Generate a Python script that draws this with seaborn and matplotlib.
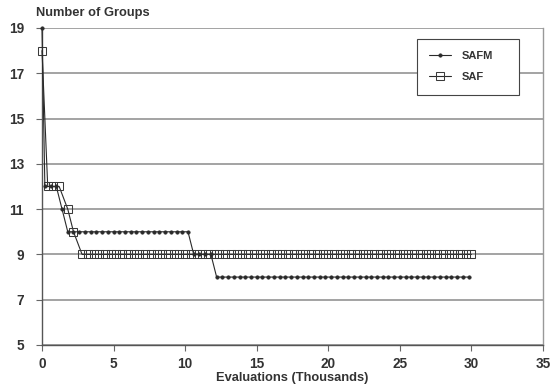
import matplotlib
matplotlib.use("Agg")
import matplotlib.pyplot as plt
import seaborn as sns

# ---- data ----
safm_x = [0.0, 0.2, 0.6, 1.0, 1.4,
          1.8, 2.2, 2.6, 3.0, 3.4, 3.8, 4.2, 4.6, 5.0, 5.4, 5.8, 6.2, 6.6, 7.0, 7.4, 7.8, 8.2, 8.6, 9.0, 9.4, 9.8, 10.2,
          10.6, 11.0, 11.4, 11.8,
          12.2, 12.6, 13.0, 13.4, 13.8, 14.2, 14.6, 15.0, 15.4, 15.8, 16.2, 16.6, 17.0, 17.4, 17.8, 18.2, 18.6,
          19.0, 19.4, 19.8, 20.2, 20.6, 21.0, 21.4, 21.8, 22.2, 22.6, 23.0, 23.4, 23.8, 24.2, 24.6, 25.0, 25.4,
          25.8, 26.2, 26.6, 27.0, 27.4, 27.8, 28.2, 28.6, 29.0, 29.4, 29.8]
safm_y = [19, 12, 12, 12, 11,
          10, 10, 10, 10, 10, 10, 10, 10, 10, 10, 10, 10, 10, 10, 10, 10, 10, 10, 10, 10, 10, 10,
          9, 9, 9, 9,
          8, 8, 8, 8, 8, 8, 8, 8, 8, 8, 8, 8, 8, 8, 8, 8, 8,
          8, 8, 8, 8, 8, 8, 8, 8, 8, 8, 8, 8, 8, 8, 8, 8, 8,
          8, 8, 8, 8, 8, 8, 8, 8, 8, 8, 8]

saf_x = [0.0, 0.4, 0.8, 1.2, 1.8, 2.2,
         2.8, 3.2, 3.6, 4.0, 4.4, 4.8, 5.2, 5.6, 6.0, 6.4, 6.8, 7.2, 7.6, 8.0, 8.4, 8.8, 9.2, 9.6, 10.0, 10.4,
         10.8, 11.2, 11.6, 12.0, 12.4, 12.8, 13.2, 13.6, 14.0, 14.4, 14.8, 15.2, 15.6, 16.0, 16.4, 16.8, 17.2,
         17.6, 18.0, 18.4, 18.8, 19.2, 19.6, 20.0, 20.4, 20.8, 21.2, 21.6, 22.0, 22.4, 22.8, 23.2, 23.6, 24.0,
         24.4, 24.8, 25.2, 25.6, 26.0, 26.4, 26.8, 27.2, 27.6, 28.0, 28.4, 28.8, 29.2, 29.6, 30.0]
saf_y = [18, 12, 12, 12, 11, 10,
         9, 9, 9, 9, 9, 9, 9, 9, 9, 9, 9, 9, 9, 9, 9, 9, 9, 9, 9, 9,
         9, 9, 9, 9, 9, 9, 9, 9, 9, 9, 9, 9, 9, 9, 9, 9, 9,
         9, 9, 9, 9, 9, 9, 9, 9, 9, 9, 9, 9, 9, 9, 9, 9, 9,
         9, 9, 9, 9, 9, 9, 9, 9, 9, 9, 9, 9, 9, 9, 9]

x_ticks = [0, 5, 10, 15, 20, 25, 30, 35]
y_ticks = [5, 7, 9, 11, 13, 15, 17, 19]
series_names = ["SAFM", "SAF"]

# ---- figure ----
sns.set_theme(style="white")
plt.rcParams["font.family"] = ["Liberation Sans", "DejaVu Sans"]

fig = plt.figure(figsize=(5.55, 3.9), dpi=100)
L, R, T, B = 42, 543, 28, 345
ax = fig.add_axes([L / 555, 1 - B / 390, (R - L) / 555, (B - T) / 390])

ink = "#2a2a2a"
sns.lineplot(x=saf_x, y=saf_y, ax=ax, estimator=None, sort=False,
             color=ink, linewidth=0.8, marker="s", markersize=5.2,
             markerfacecolor="none", markeredgecolor="#3a3a3a", markeredgewidth=0.75,
             label=series_names[1], clip_on=False, zorder=3)
sns.lineplot(x=safm_x, y=safm_y, ax=ax, estimator=None, sort=False,
             color=ink, linewidth=0.8, marker="o", markersize=2.6,
             markerfacecolor=ink, markeredgecolor=ink, markeredgewidth=0.3,
             label=series_names[0], clip_on=False, zorder=4)

ax.set_xlim(0, 35)
ax.set_ylim(5, 19)
ax.set_xticks(x_ticks)
ax.set_yticks(y_ticks)
ax.yaxis.grid(True, color="#8a8a8a", linewidth=1.1)
ax.xaxis.grid(False)
ax.set_axisbelow(True)

ax.spines["top"].set_visible(False)
ax.spines["left"].set_color("#555555")
ax.spines["bottom"].set_color("#555555")
ax.spines["right"].set_color("#999999")
for s in ["left", "bottom", "right"]:
    ax.spines[s].set_linewidth(1.0)

ax.tick_params(axis="both", direction="out", length=4, width=0.8, color="#666666",
               labelsize=9.8, labelcolor="#333333", left=True, bottom=True)
ax.tick_params(axis="y", pad=9)
ax.tick_params(axis="x", pad=5)
for lab in ax.get_xticklabels() + ax.get_yticklabels():
    lab.set_fontweight("bold")

ax.set_xlabel("Evaluations (Thousands)", fontsize=9.3, fontweight="bold",
              color="#333333", labelpad=0)
ax.set_ylabel("")
fig.text(36 / 555, 1 - 13 / 390, "Number of Groups", fontsize=9.3,
         fontweight="bold", color="#333333", va="center", ha="left")

handles, labels = ax.get_legend_handles_labels()
order = [labels.index(n) for n in series_names]
leg = ax.legend([handles[i] for i in order], [labels[i] for i in order],
                loc="upper left", bbox_to_anchor=(375 / 501, 0.0, 102 / 501, (B - 39) / (B - T)),
                mode="expand", borderaxespad=0, frameon=True, fancybox=False,
                framealpha=1, edgecolor="#444444", fontsize=8,
                handlelength=2.0, handletextpad=0.9, borderpad=1.1, labelspacing=1.0)
leg.get_frame().set_linewidth(0.8)
for t in leg.get_texts():
    t.set_fontweight("bold")
    t.set_color("#333333")

fig.savefig("out.png", dpi=100, facecolor="white")
